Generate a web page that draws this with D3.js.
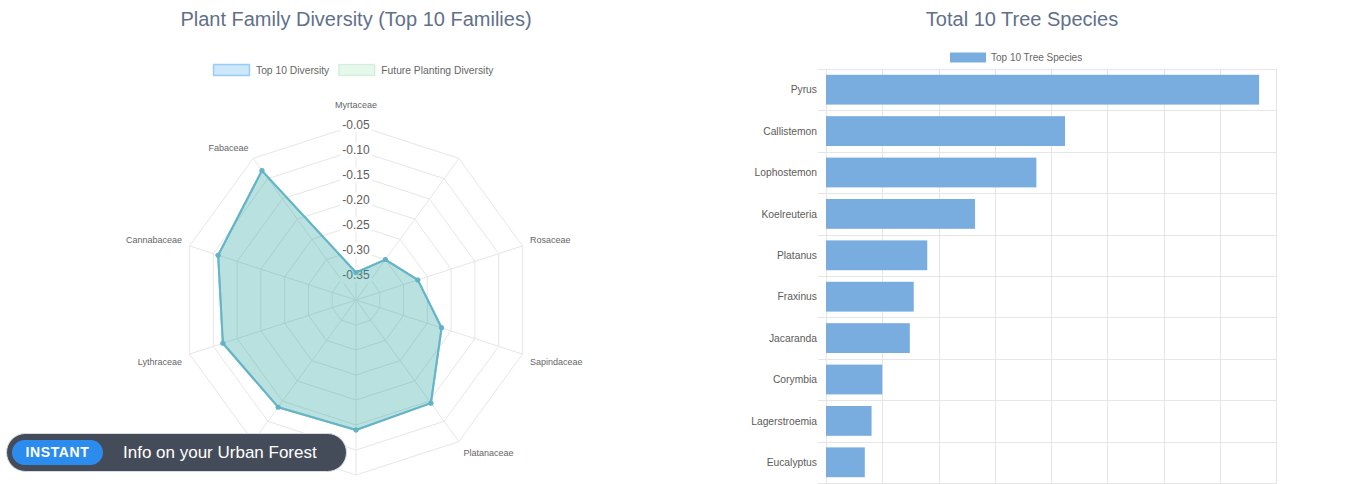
<!DOCTYPE html>
<html>
<head>
<meta charset="utf-8">
<script src="https://cdn.jsdelivr.net/npm/d3@7"></script>
<style>
  html, body { margin: 0; padding: 0; background: #fff; }
  svg { display: block; font-family: "Liberation Sans", Arial, Helvetica, sans-serif; }
</style>
</head>
<body>
<svg id="chart" width="1367" height="484"></svg>
<script>
// ---- Radar: plant family diversity ----
const families = ["Myrtaceae", "", "Rosaceae", "Sapindaceae", "Platanaceae", "Oleaceae", "Bignoniaceae", "Lythraceae", "Cannabaceae", "Fabaceae"];
const top10Diversity = [-0.345, -0.30, -0.27, -0.22, -0.145, -0.14, -0.135, -0.12, -0.11, -0.08];
const futureDiversity = [-0.345, -0.30, -0.27, -0.22, -0.145, -0.14, -0.135, -0.12, -0.11, -0.08];
const radarTicks = [-0.35, -0.30, -0.25, -0.20, -0.15, -0.10, -0.05];
const radarLegend = ["Top 10 Diversity", "Future Planting Diversity"];

// ---- Bars: top tree species ----
const species = ["Pyrus", "Callistemon", "Lophostemon", "Koelreuteria", "Platanus", "Fraxinus", "Jacaranda", "Corymbia", "Lagerstroemia", "Eucalyptus"];
const speciesCounts = [770, 425, 374, 265, 180, 156, 149, 100, 81, 69];
const countTicks = [0, 100, 200, 300, 400, 500, 600, 700, 800];

const svg = d3.select("#chart");
svg.append("rect").attr("width", 1367).attr("height", 484).attr("fill", "#fff");

const gridColor = "#e6e6e6";
const labelColor = "#666";
const titleColor = "#61708a";

// ================= Radar =================
const cx = 356, cy = 300, R = 175;
const r = d3.scaleLinear().domain([-0.40, -0.05]).range([0, R]);
const ang = d3.scaleLinear().domain([0, families.length]).range([0, 2 * Math.PI]);
const pt = (i, rad) => [cx + rad * Math.sin(ang(i)), cy - rad * Math.cos(ang(i))];

svg.append("text").attr("x", cx).attr("y", 26).attr("text-anchor", "middle")
  .attr("font-size", 20).attr("fill", titleColor)
  .text("Plant Family Diversity (Top 10 Families)");

// legend
const lg = svg.append("g");
const legendStyles = [
  { fill: "rgba(54,162,235,0.25)", stroke: "rgba(54,162,235,0.45)" },
  { fill: "rgba(90,200,130,0.15)", stroke: "rgba(90,200,130,0.2)" }
];
let lx = 213;
radarLegend.forEach((name, k) => {
  lg.append("rect").attr("x", lx + 0.5).attr("y", 64.5).attr("width", 36).attr("height", 11)
    .attr("fill", legendStyles[k].fill).attr("stroke", legendStyles[k].stroke).attr("stroke-width", 1.5);
  const t = lg.append("text").attr("x", lx + 43).attr("y", 73.5).attr("font-size", 10.3)
    .attr("fill", labelColor).text(name);
  lx += 43 + t.node().getComputedTextLength() + 9;
});

const grid = svg.append("g");
const lineGen = d3.line();
// rings
radarTicks.forEach(v => {
  const ring = families.map((_, i) => pt(i, r(v)));
  grid.append("path").attr("d", lineGen(ring) + "Z").attr("fill", "none")
    .attr("stroke", gridColor).attr("stroke-width", 1);
});
// spokes
families.forEach((_, i) => {
  const [x, y] = pt(i, R);
  grid.append("line").attr("x1", cx).attr("y1", cy).attr("x2", x).attr("y2", y)
    .attr("stroke", gridColor).attr("stroke-width", 1);
});

// point labels
families.forEach((name, i) => {
  const a = ang(i);
  const s = Math.sin(a), c = Math.cos(a);
  let [x, y] = pt(i, R + 8);
  let anchor = "middle";
  if (s > 0.01) anchor = "start";
  else if (s < -0.01) anchor = "end";
  let dy;
  if (Math.abs(s) < 0.01) dy = c > 0 ? -12 : 12;
  else dy = c > 0 ? -4 : 5;
  svg.append("text").attr("x", x).attr("y", y + dy).attr("dy", "0.35em")
    .attr("text-anchor", anchor).attr("font-size", 9).attr("fill", labelColor).text(name);
});

// tick labels with backdrop
const tickG = svg.append("g");
radarTicks.forEach(v => {
  const y = cy - r(v);
  const t = tickG.append("text").attr("x", cx).attr("y", y).attr("dy", "0.35em")
    .attr("text-anchor", "middle").attr("font-size", 12).attr("fill", "#5c5c5c")
    .text(v.toFixed(2));
  const w = t.node().getComputedTextLength();
  tickG.insert("rect", "text").attr("x", cx - w / 2 - 2).attr("y", y - 7.5)
    .attr("width", w + 4).attr("height", 15).attr("fill", "#fff");
});

// datasets
const drawSeries = (vals, fill, stroke) => {
  const pts = vals.map((v, i) => pt(i, r(v)));
  svg.append("path").attr("d", lineGen(pts) + "Z").attr("fill", fill)
    .attr("stroke", stroke).attr("stroke-width", 2).attr("stroke-linejoin", "round");
  svg.append("g").selectAll("circle").data(pts).join("circle")
    .attr("cx", d => d[0]).attr("cy", d => d[1]).attr("r", 2.5)
    .attr("fill", stroke);
};
drawSeries(futureDiversity, "rgba(60,175,165,0.22)", "rgba(85,185,190,0.8)");
drawSeries(top10Diversity, "rgba(40,160,170,0.16)", "rgba(100,175,200,0.75)");

// ================= Bars =================
const x = d3.scaleLinear().domain([0, 800]).range([826, 1276]);
const y = d3.scaleBand().domain(species).range([69, 483]).padding(0);

svg.append("text").attr("x", 1022).attr("y", 26).attr("text-anchor", "middle")
  .attr("font-size", 20).attr("fill", titleColor).text("Total 10 Tree Species");

svg.append("rect").attr("x", 950).attr("y", 52.5).attr("width", 36).attr("height", 10)
  .attr("fill", "#79ade0");
svg.append("text").attr("x", 991).attr("y", 61).attr("font-size", 10)
  .attr("fill", labelColor).text("Top 10 Tree Species");

const bg = svg.append("g");
countTicks.forEach(t => {
  bg.append("line").attr("x1", Math.round(x(t)) + 0.5).attr("x2", Math.round(x(t)) + 0.5)
    .attr("y1", 69).attr("y2", 492).attr("stroke", gridColor);
});
const bounds = species.map(s => y(s)).concat([483]);
bounds.forEach(b => {
  bg.append("line").attr("x1", 818).attr("x2", 1276).attr("y1", Math.round(b) + 0.5)
    .attr("y2", Math.round(b) + 0.5).attr("stroke", gridColor);
});

svg.append("g").selectAll("rect").data(species).join("rect")
  .attr("x", x(0))
  .attr("y", d => y(d) + y.bandwidth() * 0.14)
  .attr("width", (d, i) => x(speciesCounts[i]) - x(0))
  .attr("height", y.bandwidth() * 0.72)
  .attr("fill", "#79ade0");

svg.append("g").selectAll("text").data(species).join("text")
  .attr("x", 817).attr("y", d => y(d) + y.bandwidth() / 2).attr("dy", "0.35em")
  .attr("text-anchor", "end").attr("font-size", 10.3).attr("fill", "#5c5c5c").text(d => d);

// ================= Badge =================
const badge = svg.append("g");
badge.append("rect").attr("x", 6.5).attr("y", 433.5).attr("width", 340).attr("height", 38)
  .attr("rx", 19).attr("fill", "#454c59").attr("stroke", "#d9dce1").attr("stroke-width", 1);
badge.append("rect").attr("x", 12).attr("y", 440).attr("width", 91).attr("height", 25)
  .attr("rx", 12.5).attr("fill", "#2b8cee");
badge.append("text").attr("x", 57.5).attr("y", 452.5).attr("dy", "0.35em")
  .attr("text-anchor", "middle").attr("font-size", 14).attr("font-weight", "bold")
  .attr("letter-spacing", 0.6).attr("fill", "#fff").text("INSTANT");
badge.append("text").attr("x", 123).attr("y", 452.5).attr("dy", "0.35em")
  .attr("font-size", 17).attr("fill", "#fff").text("Info on your Urban Forest");
</script>
</body>
</html>
